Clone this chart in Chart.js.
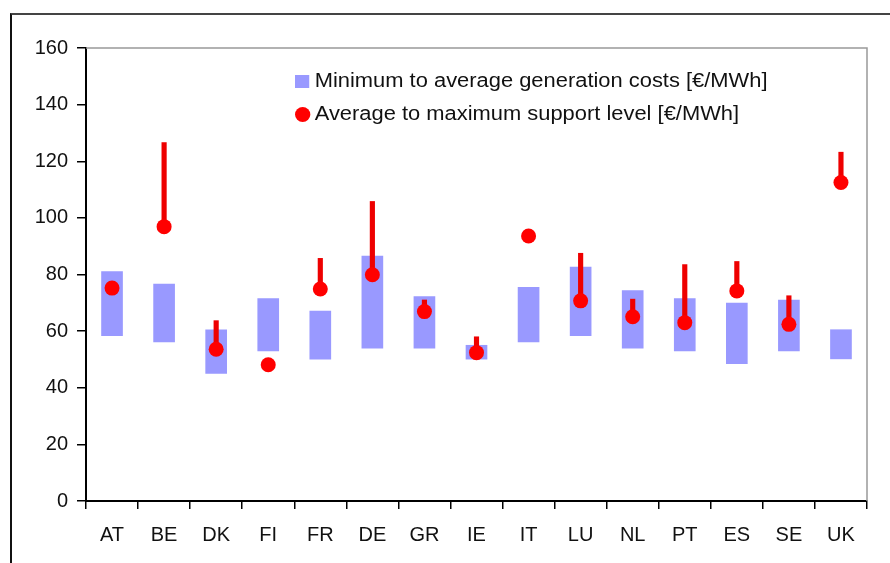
<!DOCTYPE html>
<html lang="en">

<head>
    <meta charset="UTF-8" />
    <title>Generation costs vs support level</title>
    <script src="https://cdn.jsdelivr.net/npm/chart.js"></script>
    <style>
        html, body { margin: 0; padding: 0; background: #fff; overflow: hidden; }
        #wrap { position: relative; width: 890px; height: 563px; }
        #frame {
            position: absolute; left: 10px; top: 13px; width: 900px; height: 600px;
            border-left: 2px solid #111; border-top: 2px solid #444;
        }
        canvas { position: absolute; left: 0; top: 0; }
        .legend {
            position: absolute; left: 295px; top: 67px;
            font-family: "Liberation Sans", Arial, sans-serif; font-size: 20px; color: #111;
            transform: scaleX(1.095); transform-origin: left top;
        }
        .legend div { height: 33px; line-height: 26px; white-space: nowrap; }
        .legend span.box { display: inline-block; width: 13px; height: 13px; background: #9999ff; margin-right: 5px; vertical-align: -1px; }
        .legend span.dot { display: inline-block; width: 14px; height: 15px; border-radius: 50%; background: #ff0000; margin-right: 4px; vertical-align: -2px; }
    </style>
</head>

<body>
    <div id="wrap">
        <div id="frame"></div>
        <canvas id="grafico" width="890" height="563"></canvas>
        <div class="legend">
            <div><span class="box"></span>Minimum to average generation costs [€/MWh]</div>
            <div><span class="dot"></span>Average to maximum support level [€/MWh]</div>
        </div>
    </div>

    <script>
        // values, in €/MWh
        var paises = ['AT', 'BE', 'DK', 'FI', 'FR', 'DE', 'GR', 'IE', 'IT', 'LU', 'NL', 'PT', 'ES', 'SE', 'UK'];
        var custoMin = [58.4, 56.2, 45.1, 53, 50.1, 54, 54, 50.1, 56.2, 58.4, 54, 53, 48.5, 53, 50.2];
        var custoMedio = [81, 76.6, 60.5, 71.5, 67.1, 86.5, 72.2, 55, 75.5, 82.6, 74.3, 71.5, 69.9, 71, 60.5];
        var apoioMedio = [75.2, 96.9, 53.6, 48.1, 74.9, 79.9, 66.9, 52.4, 93.6, 70.7, 65.1, 63, 74.2, 62.4, 112.5];
        var apoioMax = [null, 126.6, 63.7, null, 85.7, 105.8, 71, 58, null, 87.5, 71.3, 83.5, 84.6, 72.5, 123.2];
        var yTicks = [0, 20, 40, 60, 80, 100, 120, 140, 160];

        var faixaCustos = paises.map(function (p, i) { return [custoMin[i], custoMedio[i]]; });
        var faixaApoio = paises.map(function (p, i) {
            return apoioMax[i] === null ? null : [apoioMedio[i], apoioMax[i]];
        });

        // gray border on top and right of the plot area
        var bordaPlot = {
            id: 'bordaPlot',
            beforeDatasetsDraw: function (chart) {
                var a = chart.chartArea;
                var ctx = chart.ctx;
                ctx.save();
                ctx.strokeStyle = '#999';
                ctx.lineWidth = 1.5;
                ctx.beginPath();
                ctx.moveTo(a.left, a.top);
                ctx.lineTo(a.right, a.top);
                ctx.lineTo(a.right, a.bottom);
                ctx.stroke();
                ctx.restore();
            }
        };

        var fonte = { family: '"Liberation Sans", Arial, sans-serif', size: 20 };

        new Chart(document.getElementById('grafico').getContext('2d'), {
            type: 'bar',
            data: {
                labels: paises,
                datasets: [
                    {
                        type: 'line',
                        label: 'Average support',
                        data: apoioMedio,
                        showLine: false,
                        pointRadius: 7.5,
                        pointBackgroundColor: '#ff0000',
                        pointBorderWidth: 0,
                        order: 0
                    },
                    {
                        label: 'Average to maximum support level [€/MWh]',
                        data: faixaApoio,
                        backgroundColor: '#ee0000',
                        barThickness: 4.5,
                        grouped: false,
                        order: 1
                    },
                    {
                        label: 'Minimum to average generation costs [€/MWh]',
                        data: faixaCustos,
                        backgroundColor: '#9999ff',
                        barThickness: 21,
                        grouped: false,
                        order: 2
                    }
                ]
            },
            options: {
                responsive: false,
                animation: false,
                layout: { padding: { top: 48, right: 23, left: 0, bottom: 0 } },
                plugins: {
                    legend: { display: false },
                    tooltip: { enabled: false }
                },
                scales: {
                    x: {
                        offset: true,
                        border: { display: true, color: '#000', width: 2 },
                        grid: { offset: true, drawOnChartArea: false, color: '#000', lineWidth: 1.5, tickLength: 8 },
                        ticks: { color: '#111', font: fonte, padding: 14, maxRotation: 0 },
                        afterFit: function (scale) { scale.height = 62; }
                    },
                    y: {
                        min: 0,
                        max: 160,
                        afterBuildTicks: function (scale) {
                            scale.ticks = yTicks.map(function (v) { return { value: v }; });
                        },
                        border: { display: true, color: '#000', width: 2 },
                        grid: { drawOnChartArea: false, color: '#000', lineWidth: 1.5, tickLength: 9 },
                        ticks: { color: '#111', font: fonte, padding: 9 },
                        afterFit: function (scale) { scale.width = 86; }
                    }
                }
            },
            plugins: [bordaPlot]
        });
    </script>
</body>

</html>
